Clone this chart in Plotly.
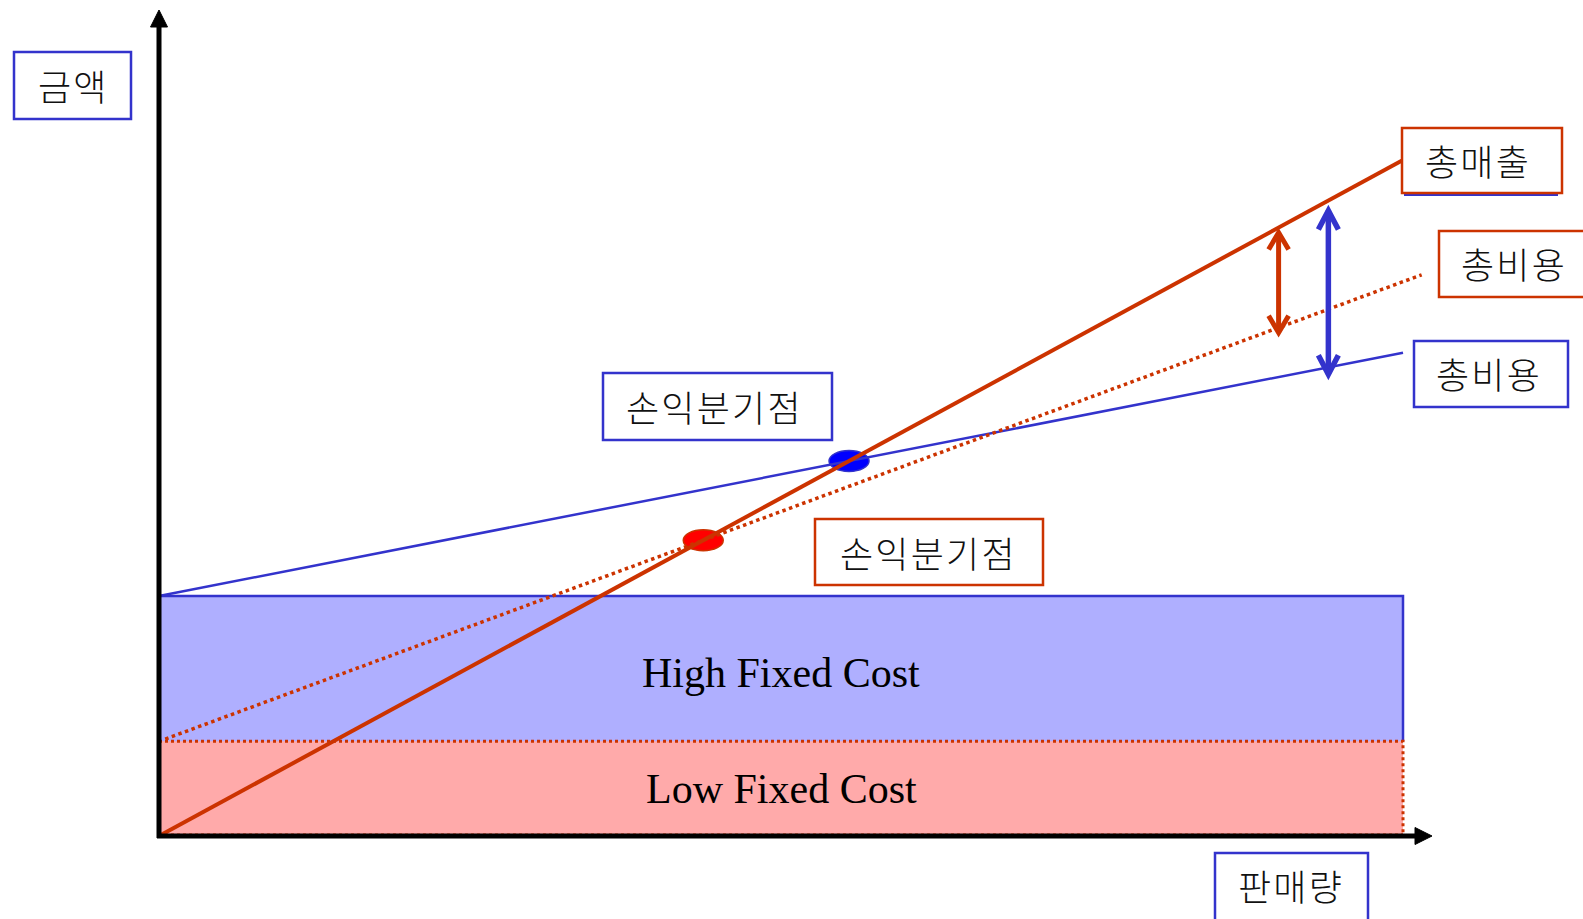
import plotly.graph_objects as go

# ---------------- data (conceptual units) ----------------
qty_range = [0, 100]                 # sales quantity extent
price = 1.0                          # revenue per unit
high_fixed = 35.5                    # high fixed cost
high_var = 0.36                      # variable cost / unit (high FC case)
low_fixed = 14.0                     # low fixed cost
low_var = 0.68                       # variable cost / unit (low FC case)
low_tc_qty = [0.5, 101.5]            # extent of dotted total-cost line
arrow_qty_low = 90                   # quantity of red margin arrow
arrow_qty_high = 94                  # quantity of blue margin arrow

labels_axis = {"y": "금액", "x": "판매량"}
label_sales = "총매출"
label_cost = "총비용"
label_bep = "손익분기점"
label_high = "High Fixed Cost"
label_low = "Low Fixed Cost"

# ---------------- colours ----------------
RED = "#CC3300"
BLUE = "#3333CC"
BLUE_FILL = "#AFAFFF"
RED_FILL = "#FFAAAA"
W, H = 1583, 919

# ---------------- pixel <-> unit layout helpers ----------------
OX, OY, SX, SY = 159.0, 836.0, 12.44, 6.76
def X(px): return (px - OX) / SX
def Y(py): return (OY - py) / SY
def dX(px): return px / SX
def dY(py): return py / SY

sales = lambda q: price * q
tc_high = lambda q: high_fixed + high_var * q
tc_low = lambda q: low_fixed + low_var * q
bep_high = high_fixed / (price - high_var)
bep_low = low_fixed / (price - low_var)

fig = go.Figure()
shapes = []
annos = []

# fixed cost rectangles
shapes.append(dict(type="rect", xref="x", yref="y", x0=qty_range[0], x1=qty_range[1], y0=0, y1=high_fixed,
                   fillcolor=BLUE_FILL, line=dict(width=0), layer="below"))
shapes.append(dict(type="rect", xref="x", yref="y", x0=qty_range[0], x1=qty_range[1], y0=0, y1=low_fixed,
                   fillcolor=RED_FILL, line=dict(width=0), layer="below"))
# BEP ellipses
for bx, by, fc, lc in [(bep_high, sales(bep_high), "#0000FF", BLUE), (bep_low, sales(bep_low), "#FF0000", RED)]:
    shapes.append(dict(type="circle", xref="x", yref="y", x0=bx - dX(20), x1=bx + dX(20),
                       y0=by - dY(10.5), y1=by + dY(10.5), fillcolor=fc, line=dict(color=lc, width=1.5),
                       layer="below"))

# borders of fixed cost rectangles (traces)
fig.add_trace(go.Scatter(x=[qty_range[0], qty_range[1], qty_range[1]], y=[high_fixed, high_fixed, low_fixed],
                         mode="lines", line=dict(color=BLUE, width=2.5), hoverinfo="skip"))
fig.add_trace(go.Scatter(x=[qty_range[0], qty_range[1], qty_range[1]], y=[low_fixed, low_fixed, 0],
                         mode="lines", line=dict(color=RED, width=3, dash="dot"), hoverinfo="skip"))
fig.add_trace(go.Scatter(x=[qty_range[0], qty_range[1]], y=[0.15, 0.15],
                         mode="lines", line=dict(color=RED, width=3, dash="dot"), hoverinfo="skip"))

# total cost lines
fig.add_trace(go.Scatter(x=qty_range, y=[tc_high(q) for q in qty_range], mode="lines",
                         line=dict(color=BLUE, width=2.5), hoverinfo="skip"))
fig.add_trace(go.Scatter(x=low_tc_qty, y=[tc_low(q) for q in low_tc_qty], mode="lines",
                         line=dict(color=RED, width=3.5, dash="dot"), hoverinfo="skip"))
# sales line
fig.add_trace(go.Scatter(x=qty_range, y=[sales(q) for q in qty_range], mode="lines",
                         line=dict(color=RED, width=4), hoverinfo="skip"))

# margin arrows
def double_arrow(q, ytop, ybot, color, lw, hw, hl):
    shapes.append(dict(type="line", xref="x", yref="y", x0=q, x1=q, y0=ytop, y1=ybot,
                       line=dict(color=color, width=lw)))
    for tip, sgn in [(ytop, -1), (ybot, 1)]:
        shapes.append(dict(type="path", xref="x", yref="y",
                           path=f"M{q - dX(hw)},{tip + sgn * dY(hl)} L{q},{tip} L{q + dX(hw)},{tip + sgn * dY(hl)}",
                           line=dict(color=color, width=lw)))

double_arrow(arrow_qty_low, sales(arrow_qty_low) - dY(5), tc_low(arrow_qty_low) - dY(5), RED, 5, 10, 17)
double_arrow(arrow_qty_high, sales(arrow_qty_high) - dY(10), tc_high(arrow_qty_high) - dY(7), BLUE, 5.5, 10, 19)

# axes (black arrows)
shapes.append(dict(type="line", xref="x", yref="y", x0=0, x1=0, y0=Y(838), y1=Y(25), line=dict(color="black", width=5)))
shapes.append(dict(type="path", xref="x", yref="y", fillcolor="black", line=dict(color="black", width=1),
                   path=f"M{X(150.5)},{Y(27)} L{X(159)},{Y(10)} L{X(167.5)},{Y(27)} Z"))
shapes.append(dict(type="line", xref="x", yref="y", x0=X(157), x1=X(1416), y0=0, y1=0, line=dict(color="black", width=5)))
shapes.append(dict(type="path", xref="x", yref="y", fillcolor="black", line=dict(color="black", width=1),
                   path=f"M{X(1415)},{Y(827.5)} L{X(1432)},{Y(836)} L{X(1415)},{Y(844.5)} Z"))

# label boxes
SP = "\u200a"
def box(x0, y0, x1, y1, color, text, cx, cy, size=36):
    shapes.append(dict(type="rect", xref="x", yref="y", x0=X(x0), x1=X(x1), y0=Y(y1), y1=Y(y0),
                       fillcolor="white", line=dict(color=color, width=2.5)))
    annos.append(dict(x=X(cx), y=Y(cy), xref="x", yref="y", text=SP.join(text), showarrow=False,
                      xanchor="center", yanchor="middle",
                      font=dict(family="Noto Sans CJK KR", size=size, weight=300, color="#111111")))

box(14, 52, 131, 119, BLUE, labels_axis["y"], 72, 85)
box(1215, 853, 1368, 930, BLUE, labels_axis["x"], 1290, 885)
shapes.append(dict(type="line", xref="x", yref="y", x0=X(1404), x1=X(1558), y0=Y(195), y1=Y(195),
                   line=dict(color=BLUE, width=2)))
box(1402, 128, 1562, 193, RED, label_sales, 1477, 160)
box(1439, 231, 1600, 297, RED, label_cost, 1513, 263)
box(1414, 341, 1568, 407, BLUE, label_cost, 1488, 373)
box(603, 373, 832, 440, BLUE, label_bep, 713, 406)
box(815, 519, 1043, 585, RED, label_bep, 927, 552)

# fixed cost texts
annos.append(dict(x=sum(qty_range) / 2, y=(high_fixed + low_fixed) / 2 - dY(4), xref="x", yref="y", text=label_high,
                  showarrow=False, font=dict(family="Liberation Serif", size=42, color="black")))
annos.append(dict(x=sum(qty_range) / 2, y=low_fixed / 2, xref="x", yref="y", text=label_low,
                  showarrow=False, font=dict(family="Liberation Serif", size=42, color="black")))

fig.update_layout(
    width=W, height=H, margin=dict(l=0, r=0, t=0, b=0),
    paper_bgcolor="white", plot_bgcolor="white", showlegend=False,
    xaxis=dict(range=[X(0), X(W)], visible=False, fixedrange=True),
    yaxis=dict(range=[Y(H), Y(0)], visible=False, fixedrange=True),
    shapes=shapes, annotations=annos,
)
fig.write_html("out.html", config={"displayModeBar": False},
               post_script="document.body.style.margin='0';document.body.style.overflow='hidden';")
